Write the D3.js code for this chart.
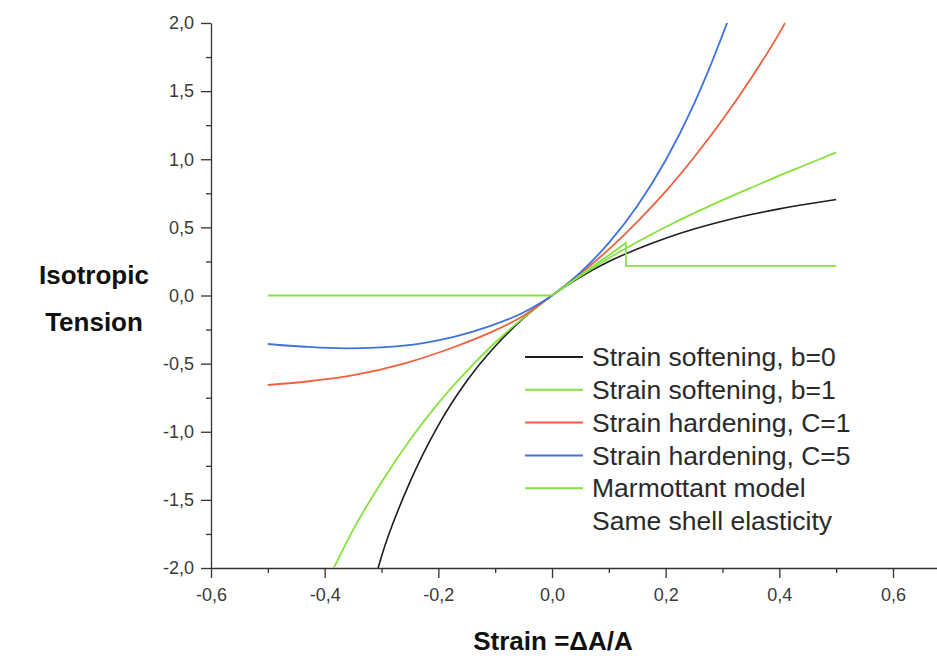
<!DOCTYPE html>
<html lang="en">
<head>
    <meta charset="UTF-8">
    <title>Isotropic tension vs strain</title>
    <script src="https://cdnjs.cloudflare.com/ajax/libs/d3/7.8.5/d3.min.js"></script>
    <style>
        body { margin: 0; background: #fff; }
        svg { display: block; font-family: "Liberation Sans", Arial, sans-serif; }
    </style>
</head>
<body>
    <div id="wrapper"></div>
    <script>
        // values: [strain, tension]
        const softeningB0 = [
            [-0.306, -2.0], [-0.3, -1.915], [-0.25, -1.37], [-0.2, -0.953], [-0.15, -0.628],
            [-0.1, -0.372], [-0.05, -0.166], [0, 0], [0.05, 0.136], [0.1, 0.249],
            [0.15, 0.342], [0.2, 0.421], [0.25, 0.488], [0.3, 0.545], [0.35, 0.594],
            [0.4, 0.636], [0.45, 0.672], [0.5, 0.704]
        ]
        const softeningB1 = [
            [-0.384, -2.0], [-0.35, -1.72], [-0.3, -1.37], [-0.25, -1.06], [-0.2, -0.79],
            [-0.15, -0.555], [-0.1, -0.345], [-0.05, -0.162], [0, 0], [0.05, 0.143],
            [0.1, 0.274], [0.15, 0.393], [0.2, 0.503], [0.25, 0.605], [0.3, 0.70],
            [0.35, 0.79], [0.4, 0.88], [0.45, 0.965], [0.5, 1.05]
        ]
        const hardeningC1 = [
            [-0.5, -0.657], [-0.435, -0.633], [-0.347, -0.583], [-0.259, -0.498], [-0.171, -0.376],
            [-0.112, -0.278], [-0.053, -0.156], [0, 0], [0.05, 0.16], [0.1, 0.339],
            [0.15, 0.541], [0.2, 0.764], [0.25, 1.015], [0.3, 1.29], [0.35, 1.593],
            [0.4, 1.926], [0.41, 2.0]
        ]
        const hardeningC5 = [
            [-0.5, -0.356], [-0.435, -0.376], [-0.364, -0.388], [-0.3, -0.38], [-0.229, -0.351],
            [-0.171, -0.302], [-0.112, -0.229], [-0.053, -0.13], [0, 0], [0.05, 0.17],
            [0.1, 0.386], [0.15, 0.657], [0.2, 0.993], [0.25, 1.407], [0.275, 1.648],
            [0.3, 1.913], [0.308, 2.0]
        ]
        const marmottant = [
            [-0.5, 0], [0, 0], [0.13, 0.385], [0.13, 0.218], [0.5, 0.218]
        ]

        const seriesNames = [
            'Strain softening, b=0', 'Strain softening, b=1', 'Strain hardening, C=1',
            'Strain hardening, C=5', 'Marmottant model'
        ]
        const seriesColors = ['#1e1e1e', '#86e23c', '#f2603c', '#3f72dc', '#86e23c']
        const xTicks = [-0.6, -0.4, -0.2, 0, 0.2, 0.4, 0.6]
        const xMinorTicks = [-0.5, -0.3, -0.1, 0.1, 0.3, 0.5]
        const yTicks = [-2, -1.5, -1, -0.5, 0, 0.5, 1, 1.5, 2]
        const yMinorTicks = [-1.75, -1.25, -0.75, -0.25, 0.25, 0.75, 1.25, 1.75]

        function drawChart() {
            const series = [softeningB0, softeningB1, hardeningC1, hardeningC5, marmottant]

            let dimensions = {
                width: 937,
                height: 659,
                margin: { top: 23, right: 0, bottom: 91, left: 211 }
            }
            dimensions.boundedWidth = dimensions.width - dimensions.margin.left - dimensions.margin.right
            dimensions.boundedHeight = dimensions.height - dimensions.margin.top - dimensions.margin.bottom

            const wrapper = d3.select('#wrapper')
                .append('svg')
                    .attr('width', dimensions.width)
                    .attr('height', dimensions.height)

            const bounds = wrapper.append('g')
                .attr('transform', `translate(${dimensions.margin.left},${dimensions.margin.top})`)

            // -0.6..0.6 spans 682px, axis line runs on to the right edge
            const pxPerUnit = 682 / 1.2
            const xScale = d3.scaleLinear()
                .domain([-0.6, -0.6 + dimensions.boundedWidth / pxPerUnit])
                .range([0, dimensions.boundedWidth])

            const yScale = d3.scaleLinear()
                .domain([-2, 2])
                .range([dimensions.boundedHeight, 0])

            const fmt = d => d.toFixed(1).replace('.', ',')

            // axes
            const xAxis = bounds.append('g')
                .attr('transform', `translate(0,${dimensions.boundedHeight})`)
                .call(d3.axisBottom(xScale).tickValues(xTicks).tickFormat(fmt).tickSize(10).tickSizeOuter(0))
            bounds.append('g')
                .attr('transform', `translate(0,${dimensions.boundedHeight})`)
                .call(d3.axisBottom(xScale).tickValues(xMinorTicks).tickFormat('').tickSize(5).tickSizeOuter(0))
                .call(g => g.select('.domain').remove())

            const yAxis = bounds.append('g')
                .call(d3.axisLeft(yScale).tickValues(yTicks).tickFormat(fmt).tickSize(10).tickSizeOuter(0))
            bounds.append('g')
                .call(d3.axisLeft(yScale).tickValues(yMinorTicks).tickFormat('').tickSize(5).tickSizeOuter(0))
                .call(g => g.select('.domain').remove())

            bounds.selectAll('.domain, .tick line')
                .attr('stroke', '#333')
                .attr('stroke-width', 1.3)

            xAxis.selectAll('.tick text')
                .attr('y', 20)
                .style('font-size', '18px')
                .attr('fill', '#3a3a3a')
            yAxis.selectAll('.tick text')
                .attr('x', -17)
                .style('font-size', '18px')
                .attr('fill', '#3a3a3a')

            // curves
            bounds.append('clipPath')
                .attr('id', 'plot-clip')
                .append('rect')
                    .attr('x', 0).attr('y', -2)
                    .attr('width', dimensions.boundedWidth)
                    .attr('height', dimensions.boundedHeight + 2)

            const smoothLine = d3.line()
                .x(d => xScale(d[0]))
                .y(d => yScale(d[1]))
                .curve(d3.curveMonotoneX)
            const straightLine = d3.line()
                .x(d => xScale(d[0]))
                .y(d => yScale(d[1]))

            const curves = bounds.append('g').attr('clip-path', 'url(#plot-clip)')
            series.forEach((data, i) => {
                curves.append('path')
                    .datum(data)
                    .attr('fill', 'none')
                    .attr('stroke', seriesColors[i])
                    .attr('stroke-width', i === 0 ? 1.6 : 1.8)
                    .attr('d', data === marmottant ? straightLine : smoothLine)
            })

            // legend
            const legend = wrapper.append('g')
                .attr('transform', 'translate(525,357)')
            const rowGap = 32.8
            seriesNames.forEach((name, i) => {
                const row = legend.append('g').attr('transform', `translate(0,${i * rowGap})`)
                row.append('line')
                    .attr('x1', 0).attr('x2', 58)
                    .attr('stroke', seriesColors[i])
                    .attr('stroke-width', 2)
                row.append('text')
                    .attr('x', 67)
                    .attr('dy', '0.35em')
                    .attr('fill', '#2a2a2a')
                    .style('font-size', '26.5px')
                    .text(name)
            })
            legend.append('text')
                .attr('x', 67)
                .attr('y', 5 * rowGap)
                .attr('dy', '0.35em')
                .attr('fill', '#2a2a2a')
                .style('font-size', '26.5px')
                .text('Same shell elasticity')

            // axis titles
            const yTitle = wrapper.append('text')
                .attr('text-anchor', 'middle')
                .attr('fill', '#111')
                .style('font-size', '26px')
                .style('font-weight', 'bold')
            yTitle.append('tspan').attr('x', 94).attr('y', 284).text('Isotropic')
            yTitle.append('tspan').attr('x', 94).attr('y', 331).text('Tension')

            wrapper.append('text')
                .attr('x', 553)
                .attr('y', 650)
                .attr('text-anchor', 'middle')
                .attr('fill', '#111')
                .style('font-size', '26px')
                .style('font-weight', 'bold')
                .text('Strain =ΔA/A')
        }

        drawChart()
    </script>
</body>
</html>
